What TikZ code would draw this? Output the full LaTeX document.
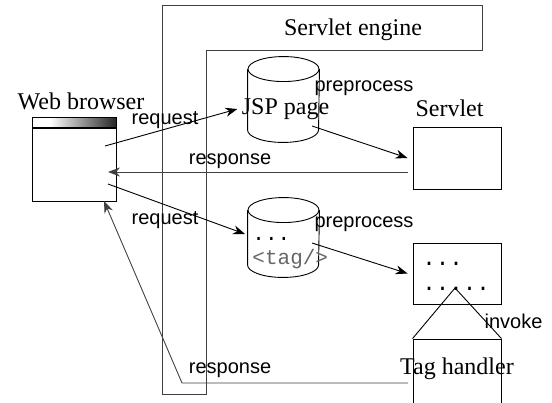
\documentclass[tikz,border=0pt]{standalone}
\usepackage{fontspec}
\setmainfont{Liberation Serif}
\setsansfont{Liberation Sans}
\setmonofont{Liberation Mono}
\usetikzlibrary{arrows.meta}

\begin{document}
\begin{tikzpicture}[x=1pt, y=-1pt, line width=0.9pt,
    serif/.style={font=\fontsize{24}{28}\selectfont, inner sep=0pt},
    sans/.style={font=\sffamily\fontsize{20}{24}\selectfont, inner sep=0pt},
    mono/.style={font=\ttfamily\fontsize{21}{24}\selectfont, inner sep=0pt, anchor=base west},
    dots/.style={font=\ttfamily\fontsize{22.5}{24}\selectfont, inner sep=0pt, anchor=base west},
    box/.style={rectangle, draw, minimum width=88pt, inner sep=0pt},
    drum/.style={rectangle, minimum width=71pt, minimum height=80pt, inner sep=0pt},
    flow/.style={-{Stealth[length=12pt, width=9pt]}},
    back/.style={draw=black!75}]
    \useasboundingbox (0,0) rectangle (552,402);
    % Servlet engine
    \draw[back] (162,5) -- (482,5) -- (482,50) -- (206,50) -- (206,394) -- (162,394) -- cycle;
    \node[serif] (engine) at (353,30) {Servlet engine};
    % Web browser
    \shade[left color=white, right color=black!85] (50,117) rectangle (116,127);
    \node[box, minimum width=84pt, minimum height=84pt] (browser) at (74,159) {};
    \draw[line width=2pt] (32,127.5) -- (116,127.5);
    \node[serif] (browserlbl) at (81,101) {Web browser};
    % JSP pages
    \node[drum, minimum height=85pt] (jsp) at (283.5,99.5) {};
    \node[drum, minimum height=79pt] (tagpage) at (283.5,237.5) {};
    \foreach \n in {jsp, tagpage} {
        \draw ([yshift=-12.5pt]\n.north west) -- ([yshift=12.5pt]\n.south west)
            arc[start angle=180, end angle=0, x radius=35.5, y radius=12.5]
            -- ([yshift=-12.5pt]\n.north east);
        \draw ([yshift=-12.5pt]\n.north) ellipse [x radius=35.5, y radius=12.5];
    }
    \node[serif] (jsplbl) at (285.5,109) {JSP page};
    \node[mono] (tagdots) at (252,240) {...};
    \node[mono, text=black!60] (tagtext) at (252,264) {<tag/>};
    % Servlets
    \node[box, minimum height=62pt] (servlet) at (457,158) {};
    \node[serif] (servletlbl) at (449.5,108.5) {Servlet};
    \node[box, minimum height=61pt] (tagservlet) at (457,273.5) {};
    \node[dots] (dotsa) at (422,265) {...};
    \node[dots] (dotsb) at (422,290) {.....};
    % Tag handler
    \node[box, minimum height=75pt] (handler) at (457,376.5) {};
    \node[serif] (handlerlbl) at (457,368.5) {Tag handler};
    \coordinate (apex) at (455,288);
    \draw (handler.north west) -- (apex) -- (handler.north east);
    \node[sans] (invokelbl) at (513.5,321) {invoke};
    % Connections
    \coordinate (reqa) at (105,146);
    \coordinate (jspout) at (312,126);
    \coordinate (respa) at (408,172);
    \coordinate (ina) at (108,172);
    \coordinate (reqb) at (108,184);
    \coordinate (tagin) at (245,234);
    \coordinate (tagout) at (312,243);
    \coordinate (respb) at (408,383);
    \coordinate (bend) at (182,383);
    \coordinate (inb) at (104,201);
    \draw[flow] (reqa) -- ([xshift=-4pt]jsplbl.west);
    \draw[flow] (jspout) -- ([xshift=-5pt]servlet.west);
    \draw[back, flow] (respa) -- (ina);
    \draw[flow] (reqb) -- (tagin);
    \draw[flow] (tagout) -- ([xshift=-5pt]tagservlet.west);
    \draw[back, flow] (respb) -- (bend) -- (inb);
    % Labels
    \node[sans] (reqalbl) at (165,120) {request};
    \node[sans] (respalbl) at (230,161) {response};
    \node[sans] (reqblbl) at (165,220) {request};
    \node[sans] (respblbl) at (230,370) {response};
    \node[sans] (prepalbl) at (364,88) {preprocess};
    \node[sans] (prepblbl) at (364,224) {preprocess};
\end{tikzpicture}
\end{document}
